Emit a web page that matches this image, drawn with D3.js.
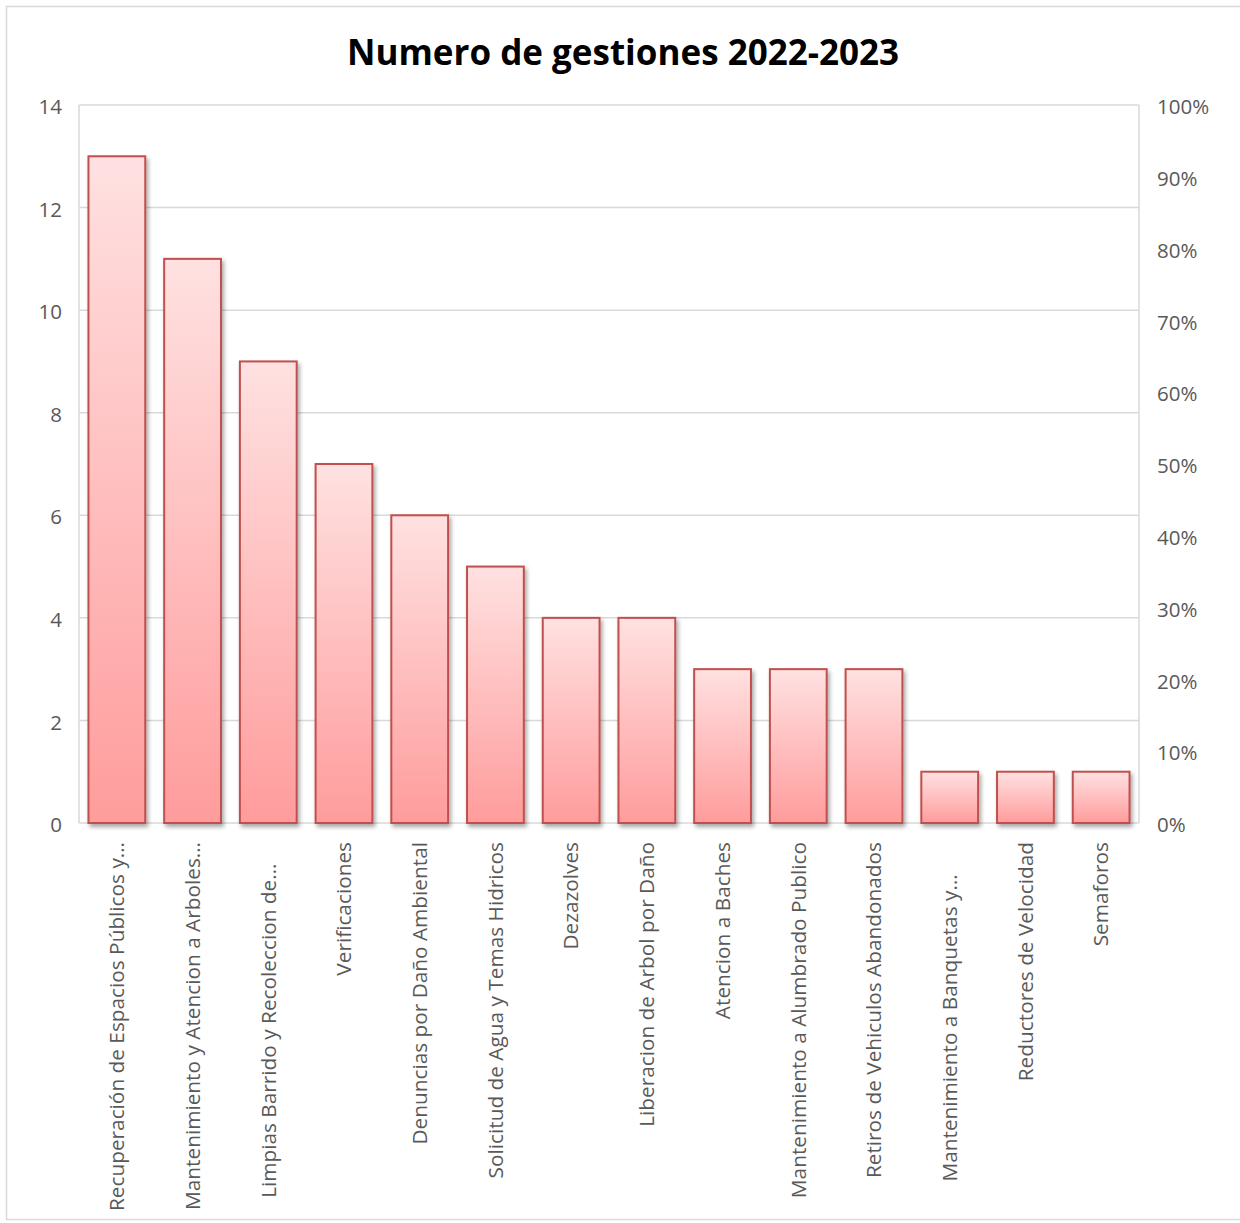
<!DOCTYPE html>
<html>
<head>
<meta charset="utf-8">
<script src="https://cdn.jsdelivr.net/npm/d3@7"></script>
<style>
  body { margin: 0; background: #fff; }
  text { font-family: "Open Sans", "Noto Sans", sans-serif; }
</style>
</head>
<body>
<div class="chart"></div>
<script>
var svgWidth = 1240;
var svgHeight = 1223;

var margin = { top: 105, right: 101, bottom: 400, left: 79 };
var width = svgWidth - margin.left - margin.right;
var height = 823 - margin.top;

// chart data (some truncated labels keep their trailing blanks)
var categories = [
  "Recuperación de Espacios Públicos y…",
  "Mantenimiento y Atencion a Arboles…",
  "Limpias Barrido y Recoleccion de…\u00a0\u00a0\u00a0\u00a0",
  "Verificaciones",
  "Denuncias por Daño Ambiental",
  "Solicitud de Agua y Temas Hidricos",
  "Dezazolves",
  "Liberacion de Arbol por Daño",
  "Atencion a Baches",
  "Mantenimiento a Alumbrado Publico",
  "Retiros de Vehiculos Abandonados",
  "Mantenimiento a Banquetas y…\u00a0\u00a0\u00a0\u00a0\u00a0\u00a0",
  "Reductores de Velocidad",
  "Semaforos"
];
var gestiones = [13, 11, 9, 7, 6, 5, 4, 4, 3, 3, 3, 1, 1, 1];
var leftTicks = [0, 2, 4, 6, 8, 10, 12, 14];
var rightTicks = [0, 0.1, 0.2, 0.3, 0.4, 0.5, 0.6, 0.7, 0.8, 0.9, 1];

var svg = d3.select(".chart")
  .append("svg")
  .attr("width", svgWidth)
  .attr("height", svgHeight);

// outer chart border
svg.append("rect")
  .attr("x", 6.5).attr("y", 6.5)
  .attr("width", svgWidth).attr("height", 1213)
  .attr("fill", "#fff")
  .attr("stroke", "#d9d9d9")
  .attr("stroke-width", 1.5);

var defs = svg.append("defs");
var grad = defs.append("linearGradient")
  .attr("id", "barGrad")
  .attr("x1", 0).attr("y1", 0).attr("x2", 0).attr("y2", 1);
grad.append("stop").attr("offset", "0%").attr("stop-color", "#ffe1e1");
grad.append("stop").attr("offset", "100%").attr("stop-color", "#ff9c9c");

var shadow = defs.append("filter")
  .attr("id", "shadow")
  .attr("x", "-20%").attr("y", "-5%")
  .attr("width", "150%").attr("height", "120%");
shadow.append("feDropShadow")
  .attr("dx", 2).attr("dy", 3)
  .attr("stdDeviation", 2)
  .attr("flood-color", "#000")
  .attr("flood-opacity", 0.35);

// title
svg.append("text")
  .attr("x", 623)
  .attr("y", 65)
  .attr("text-anchor", "middle")
  .attr("font-size", "35px")
  .attr("font-weight", "bold")
  .attr("fill", "#000")
  .text("Numero de gestiones 2022-2023");

var chartGroup = svg.append("g")
  .attr("transform", `translate(${margin.left}, ${margin.top})`);

var xBandScale = d3.scaleBand()
  .domain(categories)
  .range([0, width])
  .paddingInner(0.25)
  .paddingOuter(0.125);

var yLinearScale = d3.scaleLinear()
  .domain([0, 14])
  .range([height, 0]);

var yPercentScale = d3.scaleLinear()
  .domain([0, 1])
  .range([height, 0]);

// gridlines
chartGroup.append("g")
  .selectAll("line")
  .data(leftTicks)
  .enter()
  .append("line")
  .attr("x1", 0)
  .attr("x2", width)
  .attr("y1", d => yLinearScale(d))
  .attr("y2", d => yLinearScale(d))
  .attr("stroke", "#d9d9d9")
  .attr("stroke-width", 1.5);

// plot area border (left / right)
chartGroup.append("line")
  .attr("x1", 0).attr("x2", 0)
  .attr("y1", 0).attr("y2", height)
  .attr("stroke", "#d9d9d9").attr("stroke-width", 1.5);
chartGroup.append("line")
  .attr("x1", width).attr("x2", width)
  .attr("y1", 0).attr("y2", height)
  .attr("stroke", "#d9d9d9").attr("stroke-width", 1.5);

// left axis
var leftAxis = d3.axisLeft(yLinearScale)
  .tickValues(leftTicks)
  .tickSize(0)
  .tickPadding(17);
var leftG = chartGroup.append("g").call(leftAxis);
leftG.select(".domain").remove();
leftG.selectAll("text")
  .attr("font-size", "20.5px")
  .attr("fill", "#595959")
  .attr("dy", "0.42em")
  .style("font-family", "'Open Sans', sans-serif");

// right axis
var rightAxis = d3.axisRight(yPercentScale)
  .tickValues(rightTicks)
  .tickFormat(d3.format(".0%"))
  .tickSize(0)
  .tickPadding(18);
var rightG = chartGroup.append("g")
  .attr("transform", `translate(${width}, 0)`)
  .call(rightAxis);
rightG.select(".domain").remove();
rightG.selectAll("text")
  .attr("font-size", "20.5px")
  .attr("fill", "#595959")
  .attr("dy", "0.42em")
  .style("font-family", "'Open Sans', sans-serif");

// bars
chartGroup.selectAll("rect.bar")
  .data(gestiones)
  .enter()
  .append("rect")
  .attr("class", "bar")
  .attr("x", (d, i) => xBandScale(categories[i]))
  .attr("y", d => yLinearScale(d))
  .attr("width", xBandScale.bandwidth())
  .attr("height", d => height - yLinearScale(d))
  .attr("fill", "url(#barGrad)")
  .attr("stroke", "#c0504d")
  .attr("stroke-width", 2)
  .attr("filter", "url(#shadow)");

// category labels (rotated)
chartGroup.append("g")
  .selectAll("text")
  .data(categories)
  .enter()
  .append("text")
  .attr("transform", d => `translate(${xBandScale(d) + xBandScale.bandwidth() / 2}, ${height + 19}) rotate(-90)`)
  .attr("dy", "0.35em")
  .attr("text-anchor", "end")
  .attr("font-size", "20.8px")
  .attr("fill", "#595959")
  .text(d => d);
</script>
</body>
</html>
